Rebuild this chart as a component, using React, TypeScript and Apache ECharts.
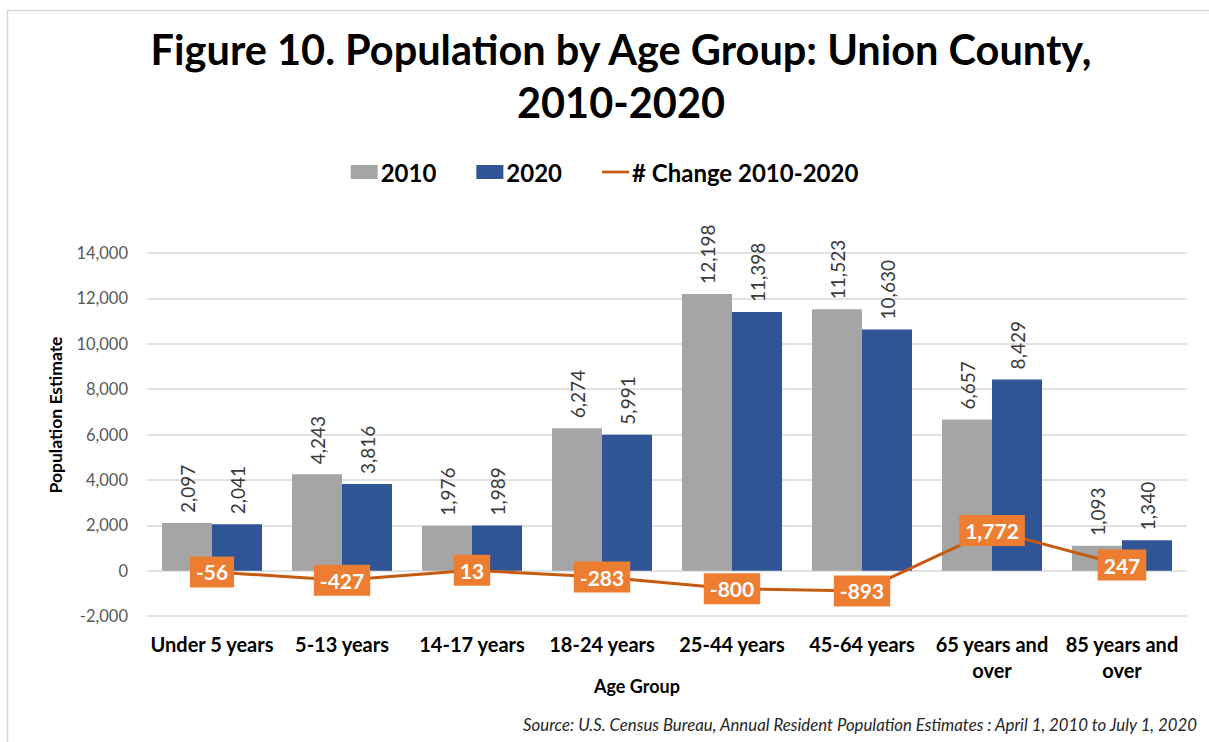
import React, { useEffect, useRef } from "react";
import * as echarts from "echarts";

const categories = [
  "Under 5 years",
  "5-13 years",
  "14-17 years",
  "18-24 years",
  "25-44 years",
  "45-64 years",
  "65 years and\nover",
  "85 years and\nover",
];
const pop2010 = [2097, 4243, 1976, 6274, 12198, 11523, 6657, 1093];
const pop2020 = [2041, 3816, 1989, 5991, 11398, 10630, 8429, 1340];
const change = [-56, -427, 13, -283, -800, -893, 1772, 247];
const yTicks = { min: -2000, max: 14000, interval: 2000 };

const FONT = "Lato, 'Open Sans', sans-serif";
const fmt = (v: number) => v.toLocaleString("en-US");

export default function App() {
  const ref = useRef<HTMLDivElement>(null);
  useEffect(() => {
    if (!ref.current) return;
    const chart = echarts.init(ref.current, null, { renderer: "svg" });
    const barLabel = {
      show: true,
      position: "top",
      rotate: 90,
      align: "left",
      verticalAlign: "middle",
      distance: 10,
      color: "#3A3A3A",
      fontSize: 19,
      fontFamily: FONT,
      formatter: (p: any) => fmt(p.value),
    };
    chart.setOption({
      animation: false,
      backgroundColor: "#ffffff",
      textStyle: { fontFamily: FONT },
      title: {
        text: "Figure 10. Population by Age Group: Union County,\n2010-2020",
        left: 616,
        textAlign: "center",
        top: 17,
        textStyle: {
          fontSize: 41.5,
          fontWeight: "bold",
          color: "#000000",
          lineHeight: 53,
          fontFamily: FONT,
        },
      },
      legend: {
        top: 155,
        left: "center",
        itemGap: 40,
        itemWidth: 27,
        itemHeight: 14,
        textStyle: { fontSize: 24, fontWeight: "bold", color: "#000", fontFamily: FONT, padding: [0, 0, 0, -2] },
        data: [
          { name: "2010", icon: "rect" },
          { name: "2020", icon: "rect" },
          { name: "# Change 2010-2020", icon: "path://M0,0 L30,0 L30,3 L0,3 Z" },
        ],
      },
      grid: { left: 147, right: 22, top: 253, bottom: 126 },
      xAxis: {
        type: "category",
        data: categories,
        axisLine: { show: false, onZero: false },
        axisTick: { show: false },
        axisLabel: {
          interval: 0,
          margin: 15,
          fontSize: 20,
          fontWeight: "bold",
          color: "#000",
          lineHeight: 26,
          fontFamily: FONT,
        },
      },
      yAxis: {
        type: "value",
        min: yTicks.min,
        max: yTicks.max,
        interval: yTicks.interval,
        axisLine: { show: false },
        axisTick: { show: false },
        splitLine: { lineStyle: { color: "#D9D9D9", width: 1.5 } },
        axisLabel: {
          margin: 19,
          fontSize: 16.5,
          color: "#595959",
          fontFamily: FONT,
          formatter: (v: number) => fmt(v),
        },
      },
      series: [
        {
          name: "2010",
          type: "bar",
          data: pop2010,
          barWidth: 50,
          barGap: "0%",
          itemStyle: { color: "#A5A5A5" },
          label: barLabel,
        },
        {
          name: "2020",
          type: "bar",
          data: pop2020,
          barWidth: 50,
          barGap: "0%",
          itemStyle: { color: "#2F5597" },
          label: barLabel,
        },
        {
          name: "# Change 2010-2020",
          type: "line",
          data: change,
          symbol: "circle",
          symbolSize: 1,
          showSymbol: true,
          lineStyle: { color: "#C55A11", width: 3 },
          itemStyle: { color: "#C55A11" },
          z: 5,
          label: {
            show: true,
            position: "inside",
            backgroundColor: "#ED7D31",
            color: "#ffffff",
            fontWeight: "bold",
            fontSize: 21,
            fontFamily: FONT,
            padding: [6, 6, 4, 6],
            formatter: (p: any) => fmt(p.value),
          },
        },
      ],
      graphic: [
        {
          type: "rect",
          shape: { x: 7.5, y: 10.5, width: 1300, height: 800 },
          style: { fill: "none", stroke: "#D9D9D9", lineWidth: 1.5 },
          silent: true,
        },
        {
          type: "text",
          x: 55,
          y: 415,
          rotation: Math.PI / 2,
          style: {
            text: "Population Estimate",
            fontSize: 17.5,
            fontWeight: "bold",
            fill: "#000",
            fontFamily: FONT,
            align: "center",
            verticalAlign: "middle",
          },
        },
        {
          type: "text",
          x: 637,
          y: 686,
          style: {
            text: "Age Group",
            fontSize: 18,
            fontWeight: "bold",
            fill: "#000",
            fontFamily: FONT,
            align: "center",
            verticalAlign: "middle",
          },
        },
        {
          type: "text",
          x: 1197,
          y: 724,
          style: {
            text: "Source: U.S. Census Bureau, Annual Resident Population Estimates : April 1, 2010 to July 1, 2020",
            fontSize: 16.8,
            fontStyle: "italic",
            fill: "#262626",
            fontFamily: FONT,
            align: "right",
            verticalAlign: "middle",
          },
        },
      ],
    });
    return () => chart.dispose();
  }, []);
  return (
    <div
      ref={ref}
      style={{ position: "fixed", left: 0, top: 0, width: 1209, height: 742 }}
    />
  );
}
